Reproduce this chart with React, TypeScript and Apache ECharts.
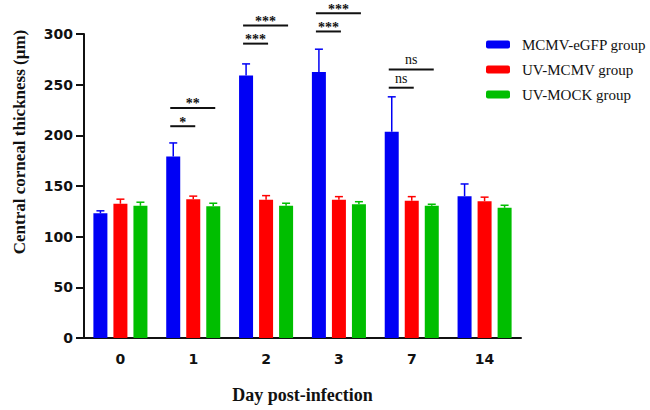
import React, { useEffect, useRef } from "react";
import * as echarts from "echarts";

const categories = ["0", "1", "2", "3", "7", "14"];
const seriesNames = ["MCMV-eGFP group", "UV-MCMV group", "UV-MOCK group"];
const eGFP = [123, 179, 259, 262.5, 203.5, 140];
const eGFPErr = [125.5, 192.5, 270.5, 285, 238, 152];
const uvMcmv = [132.5, 137, 136.5, 136.5, 135.5, 135];
const uvMcmvErr = [137, 140, 140.5, 139.5, 139.5, 139];
const uvMock = [130.5, 130, 130.5, 132, 130.5, 128.5];
const uvMockErr = [134, 133, 133, 134.5, 132, 131];

// significance brackets: category index, target group (1 = UV-MCMV, 2 = UV-MOCK), y value, label
const sigCat = [1, 1, 2, 2, 3, 3, 4, 4];
const sigTo = [1, 2, 1, 2, 1, 2, 1, 2];
const sigY = [209, 227, 290.5, 308.5, 302.5, 320.5, 247, 265];
const sigLabel = ["*", "**", "***", "***", "***", "***", "ns", "ns"];

const yTitle = "Central corneal thickness (μm)";
const xTitle = "Day post-infection";

const colors = ["#0000F5", "#FF0000", "#00BE00"];
const BAR_W = 14;
const STEP = 20;

export default function App() {
  const ref = useRef<HTMLDivElement>(null);
  useEffect(() => {
    if (!ref.current) return;
    const chart = echarts.init(ref.current, null, { renderer: "svg" });
    const values = [eGFP, uvMcmv, uvMock];
    const errs = [eGFPErr, uvMcmvErr, uvMockErr];

    const barSeries = values.map((v, i) => ({
      type: "bar",
      name: seriesNames[i],
      data: v,
      barWidth: BAR_W,
      barGap: "43%",
      itemStyle: { color: colors[i] },
      z: 2,
    }));

    const errSeries = errs.map((e, i) => ({
      type: "custom",
      name: "err" + i,
      data: e.map((top, k) => [k, values[i][k], top]),
      encode: { x: 0, y: [1, 2] },
      z: 3,
      renderItem: (params: any, api: any) => {
        const c = api.coord([api.value(0), api.value(1)]);
        const t = api.coord([api.value(0), api.value(2)]);
        const x = c[0] + (i - 1) * STEP;
        const style = { stroke: colors[i], lineWidth: 1.5 };
        return {
          type: "group",
          children: [
            { type: "line", shape: { x1: x, y1: c[1], x2: x, y2: t[1] }, style },
            { type: "line", shape: { x1: x - 4, y1: t[1], x2: x + 4, y2: t[1] }, style },
          ],
        };
      },
    }));

    const sigSeries = {
      type: "custom",
      name: "sig",
      data: sigCat.map((c, k) => [c, sigTo[k], sigY[k], k]),
      encode: { x: 0, y: 2 },
      clip: false,
      z: 4,
      renderItem: (params: any, api: any) => {
        const k = api.value(3);
        const p = api.coord([api.value(0), api.value(2)]);
        const x1 = p[0] - STEP - 3;
        const x2 = p[0] + (api.value(1) - 1) * STEP + 2;
        const y = p[1];
        const label = sigLabel[k];
        const isNs = label === "ns";
        return {
          type: "group",
          children: [
            {
              type: "line",
              shape: { x1, y1: y, x2, y2: y },
              style: { stroke: "#111", lineWidth: 2 },
            },
            {
              type: "text",
              x: (x1 + x2) / 2,
              y: isNs ? y - 9.5 : y - 4,
              style: {
                text: label,
                fill: "#111",
                font: isNs
                  ? "14px 'Liberation Serif'"
                  : "bold 14px 'Liberation Serif'",
                align: "center",
                verticalAlign: "middle",
              },
            },
          ],
        };
      },
    };

    chart.setOption({
      animation: false,
      backgroundColor: "#fff",
      grid: { left: 84, right: 129, top: 34, bottom: 72 },
      legend: {
        orient: "vertical",
        left: 481,
        top: 32,
        itemWidth: 24,
        itemHeight: 8,
        itemGap: 10,
        icon: "roundRect",
        data: seriesNames,
        selectedMode: false,
        textStyle: {
          fontFamily: "Liberation Serif",
          fontSize: 15,
          color: "#111",
          padding: [0, 0, 0, 7],
        },
      },
      graphic: [
        {
          type: "text",
          x: 19,
          y: 142,
          rotation: Math.PI / 2,
          style: {
            text: yTitle,
            font: "bold 17px 'Liberation Serif'",
            fill: "#111",
            align: "center",
            verticalAlign: "middle",
          },
        },
      ],
      xAxis: {
        type: "category",
        data: categories,
        name: xTitle,
        nameLocation: "middle",
        nameGap: 48,
        nameTextStyle: {
          fontFamily: "Liberation Serif",
          fontWeight: "bold",
          fontSize: 18,
          color: "#111",
        },
        axisLine: { lineStyle: { color: "#111", width: 2 } },
        axisTick: { alignWithLabel: true, length: 6, lineStyle: { color: "#111", width: 2 } },
        axisLabel: {
          fontFamily: "DejaVu Sans",
          fontWeight: "bold",
          fontSize: 14,
          color: "#111",
          margin: 14,
        },
      },
      yAxis: {
        type: "value",
        min: 0,
        max: 300,
        interval: 50,
        splitLine: { show: false },
        axisLine: { show: true, lineStyle: { color: "#111", width: 2 } },
        axisTick: { show: true, length: 8, lineStyle: { color: "#111", width: 2 } },
        axisLabel: {
          fontFamily: "DejaVu Sans",
          fontWeight: "bold",
          fontSize: 14,
          color: "#111",
          margin: 11,
        },
      },
      series: [...barSeries, ...errSeries, sigSeries],
    });
    return () => chart.dispose();
  }, []);
  return (
    <div
      ref={ref}
      style={{ position: "fixed", left: 0, top: 0, width: 650, height: 410, background: "#fff" }}
    />
  );
}
